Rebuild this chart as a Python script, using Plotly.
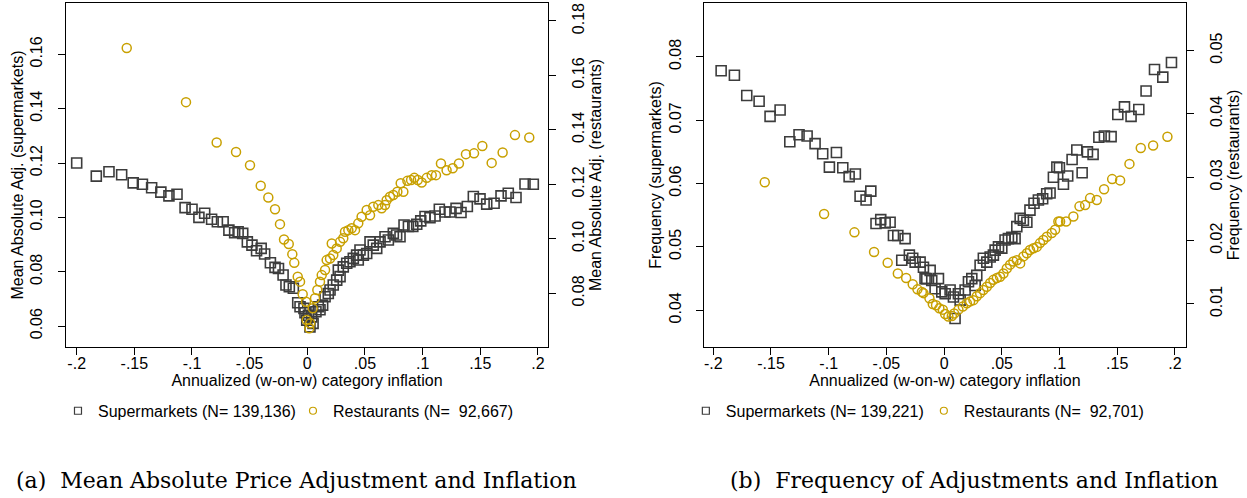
import plotly.graph_objects as go

# ---------------- Panel (a): mean absolute price adjustment ----------------
a_sup_x = [-0.200, -0.183, -0.172, -0.161, -0.151, -0.143, -0.135, -0.127, -0.120, -0.113,
           -0.106, -0.100, -0.094, -0.089, -0.083, -0.078, -0.073, -0.068, -0.063, -0.060,
           -0.056, -0.052, -0.048, -0.044, -0.040, -0.037, -0.032, -0.028, -0.025, -0.021,
           -0.0185, -0.0156, -0.0121, -0.0083, -0.0063, -0.0029, -0.0020, -0.0005, 0.0010,
           0.0023, 0.0038, 0.0050, 0.0075, 0.0095, 0.0110, 0.0133, 0.0154, 0.0182, 0.0197,
           0.0225, 0.0255, 0.0269, 0.0284, 0.0312, 0.0342, 0.0370, 0.0399, 0.0428, 0.0442,
           0.0457, 0.0486, 0.0515, 0.0544, 0.0572, 0.0602, 0.0631, 0.0674, 0.0703, 0.0746,
           0.0775, 0.0804, 0.0839, 0.0877, 0.0915, 0.0949, 0.0984, 0.1021, 0.1064, 0.1108,
           0.1145, 0.1194, 0.1237, 0.1290, 0.1333, 0.1388, 0.1440, 0.1498, 0.1556, 0.1620,
           0.1680, 0.1743, 0.1810, 0.1888, 0.1960]
a_sup_y = [0.1200, 0.1152, 0.1168, 0.1157, 0.1127, 0.1122, 0.1109, 0.1093, 0.1079, 0.1085,
           0.1036, 0.1030, 0.1000, 0.1015, 0.0993, 0.0984, 0.0984, 0.0953, 0.0944, 0.0947,
           0.0941, 0.0910, 0.0898, 0.0877, 0.0886, 0.0865, 0.0833, 0.0816, 0.0812, 0.0788,
           0.0751, 0.0745, 0.0739, 0.0686, 0.0671, 0.0665, 0.0649, 0.0622, 0.0640,
           0.0597, 0.0634, 0.0610, 0.0653, 0.0671, 0.0660, 0.0677, 0.0708, 0.0720, 0.0733,
           0.0751, 0.0769, 0.0806, 0.0782, 0.0818, 0.0831, 0.0837, 0.0849, 0.0861, 0.0843,
           0.0880, 0.0861, 0.0867, 0.0910, 0.0898, 0.0886, 0.0910, 0.0929, 0.0917, 0.0941,
           0.0935, 0.0929, 0.0972, 0.0967, 0.0967, 0.0975, 0.0987, 0.1003, 0.0999, 0.1005,
           0.1030, 0.1020, 0.1020, 0.1033, 0.1018, 0.1040, 0.1077, 0.1068, 0.1049, 0.1052,
           0.1079, 0.1089, 0.1073, 0.1123, 0.1122]

a_res_x = [-0.1566, -0.1052, -0.0786, -0.0618, -0.0497, -0.0404, -0.0338, -0.0280, -0.0237,
           -0.0202, -0.0161, -0.0130, -0.0113, -0.0083, -0.0063, -0.0040, -0.0011, -0.0005,
           0.0017, 0.0025, 0.0047, 0.0067, 0.0087, 0.0110, 0.0125, 0.0154, 0.0168, 0.0197,
           0.0212, 0.0225, 0.0255, 0.0284, 0.0312, 0.0327, 0.0356, 0.0385, 0.0414, 0.0442,
           0.0471, 0.0515, 0.0544, 0.0572, 0.0616, 0.0645, 0.0674, 0.0688, 0.0717, 0.0746,
           0.0781, 0.0810, 0.0833, 0.0868, 0.0900, 0.0928, 0.0958, 0.0992, 0.1036, 0.1079,
           0.1116, 0.1159, 0.1208, 0.1261, 0.1315, 0.1376, 0.1446, 0.1518, 0.1599, 0.1694,
           0.1801, 0.1925]
a_res_y = [0.1701, 0.1502, 0.1354, 0.1319, 0.1270, 0.1195, 0.1152, 0.1109, 0.1054,
           0.0998, 0.0981, 0.0944, 0.0912, 0.0861, 0.0843, 0.0797, 0.0769, 0.0702,
           0.0672, 0.0690, 0.0745, 0.0782, 0.0812, 0.0843, 0.0867, 0.0886, 0.0922, 0.0928,
           0.0983, 0.0941, 0.0965, 0.0989, 0.1002, 0.1026, 0.1032, 0.1039, 0.1032, 0.1057,
           0.1081, 0.1106, 0.1087, 0.1118, 0.1124, 0.1112, 0.1124, 0.1142, 0.1155, 0.1161,
           0.1173, 0.1204, 0.1173, 0.1213, 0.1216, 0.1224, 0.1216, 0.1207, 0.1224, 0.1234,
           0.1234, 0.1277, 0.1252, 0.1259, 0.1277, 0.1311, 0.1314, 0.1341, 0.1279, 0.1317,
           0.1381, 0.1372]

# ---------------- Panel (b): frequency of adjustments ----------------
b_sup_x = [-0.1932, -0.1817, -0.1710, -0.1603, -0.1508, -0.1421, -0.1337, -0.1257, -0.1187,
           -0.1118, -0.1052, -0.0994, -0.0933, -0.0878, -0.0823, -0.0769, -0.0728, -0.0676,
           -0.0635, -0.0590, -0.0549, -0.0511, -0.0468, -0.0439, -0.0401, -0.0367, -0.0338,
           -0.0301, -0.0272, -0.0251, -0.0208, -0.0179, -0.0165, -0.0150, -0.0121, -0.0107,
           -0.0078, -0.0049, -0.0020, 0.0009, 0.0052, 0.0081, 0.0095, 0.0124, 0.0139,
           0.0182, 0.0211, 0.0240, 0.0269, 0.0283, 0.0312, 0.0340, 0.0370, 0.0399, 0.0427,
           0.0442, 0.0471, 0.0500, 0.0528, 0.0557, 0.0587, 0.0615, 0.0630, 0.0659, 0.0687,
           0.0717, 0.0744, 0.0779, 0.0817, 0.0854, 0.0889, 0.0918, 0.0947, 0.0977, 0.0999,
           0.1034, 0.1071, 0.1109, 0.1150, 0.1196, 0.1242, 0.1291, 0.1341, 0.1389, 0.1447,
           0.1505, 0.1563, 0.1620, 0.1687, 0.1750, 0.1823, 0.1895, 0.1970]
b_sup_y = [0.0778, 0.0771, 0.0739, 0.0730, 0.0706, 0.0716, 0.0666, 0.0677, 0.0675,
           0.0663, 0.0647, 0.0626, 0.0649, 0.0625, 0.0611, 0.0615, 0.0580, 0.0574,
           0.0588, 0.0537, 0.0543, 0.0538, 0.0539, 0.0518, 0.0518, 0.0479, 0.0513,
           0.0487, 0.0482, 0.0476, 0.0476, 0.0468, 0.0450, 0.0450, 0.0463, 0.0447,
           0.0434, 0.0450, 0.0429, 0.0426, 0.0432, 0.0421, 0.0387, 0.0426, 0.0416,
           0.0432, 0.0445, 0.0450, 0.0439, 0.0455, 0.0471, 0.0482, 0.0476, 0.0484, 0.0487,
           0.0495, 0.0500, 0.0498, 0.0511, 0.0513, 0.0515, 0.0513, 0.0532, 0.0545, 0.0542,
           0.0539, 0.0558, 0.0569, 0.0574, 0.0576, 0.0584, 0.0585, 0.0610, 0.0626, 0.0625,
           0.0599, 0.0612, 0.0638, 0.0653, 0.0617, 0.0650, 0.0646, 0.0673, 0.0675, 0.0674,
           0.0709, 0.0721, 0.0706, 0.0717, 0.0746, 0.0780, 0.0768, 0.0791]

b_res_x = [-0.1554, -0.1040, -0.0777, -0.0607, -0.0489, -0.0401, -0.0329, -0.0272, -0.0231,
           -0.0193, -0.0179, -0.0127, -0.0098, -0.0070, -0.0041, -0.0011, 0.0009, 0.0037,
           0.0067, 0.0087, 0.0124, 0.0162, 0.0197, 0.0225, 0.0254, 0.0283, 0.0312, 0.0340,
           0.0370, 0.0399, 0.0427, 0.0457, 0.0485, 0.0514, 0.0543, 0.0572, 0.0600, 0.0630,
           0.0659, 0.0687, 0.0717, 0.0744, 0.0774, 0.0803, 0.0831, 0.0860, 0.0890, 0.0933,
           0.0962, 0.0990, 0.1005, 0.1057, 0.1120, 0.1173, 0.1222, 0.1265, 0.1323, 0.1386,
           0.1456, 0.1525, 0.1606, 0.1704, 0.1811, 0.1935]
b_res_y = [0.0292, 0.0242, 0.0213, 0.0182, 0.0165, 0.0148, 0.0141, 0.0131, 0.0123,
           0.0119, 0.0117, 0.0109, 0.0100, 0.0098, 0.0093, 0.0091, 0.0084, 0.0080,
           0.0081, 0.0085, 0.0091, 0.0096, 0.0101, 0.0104, 0.0106, 0.0112, 0.0117, 0.0122,
           0.0127, 0.0133, 0.0138, 0.0141, 0.0143, 0.0148, 0.0156, 0.0162, 0.0167, 0.0169,
           0.0164, 0.0175, 0.0180, 0.0185, 0.0188, 0.0190, 0.0196, 0.0201, 0.0206, 0.0212,
           0.0217, 0.0230, 0.0230, 0.0230, 0.0238, 0.0254, 0.0256, 0.0267, 0.0264, 0.0281,
           0.0297, 0.0295, 0.0321, 0.0346, 0.0350, 0.0364]

x_tickvals = [-0.2, -0.15, -0.1, -0.05, 0, 0.05, 0.1, 0.15, 0.2]
x_ticktext = ["-.2", "-.15", "-.1", "-.05", "0", ".05", ".1", ".15", ".2"]

a_sup_label = "Supermarkets (N= 139,136)"
a_res_label = "Restaurants (N=\u00a0 92,667)"
b_sup_label = "Supermarkets (N= 139,221)"
b_res_label = "Restaurants (N=\u00a0 92,701)"

SQ = "#3c3c3c"
GOLD = "#C8A000"
FONT = "Liberation Sans"

sq_marker = dict(symbol="square-open", size=10, color=SQ, line=dict(width=1.6, color=SQ))
ci_marker = dict(symbol="circle-open", size=9, color=GOLD, line=dict(width=1.5, color=GOLD))
sq_leg = dict(symbol="square-open", size=7, color=SQ, line=dict(width=1.2, color=SQ))
ci_leg = dict(symbol="circle-open", size=7, color=GOLD, line=dict(width=1.2, color=GOLD))

fig = go.Figure()
fig.add_trace(go.Scatter(x=a_sup_x, y=a_sup_y, mode="markers", marker=sq_marker,
                         name=a_sup_label, xaxis="x", yaxis="y", showlegend=False))
fig.add_trace(go.Scatter(x=a_res_x, y=a_res_y, mode="markers", marker=ci_marker,
                         name=a_res_label, xaxis="x", yaxis="y2", showlegend=False))
fig.add_trace(go.Scatter(x=b_sup_x, y=b_sup_y, mode="markers", marker=sq_marker,
                         name=b_sup_label, xaxis="x2", yaxis="y3", showlegend=False))
fig.add_trace(go.Scatter(x=b_res_x, y=b_res_y, mode="markers", marker=ci_marker,
                         name=b_res_label, xaxis="x2", yaxis="y4", showlegend=False))
# legend entries (smaller symbols, like the original key)
fig.add_trace(go.Scatter(x=[None], y=[None], mode="markers", marker=sq_leg,
                         name=a_sup_label, xaxis="x", yaxis="y", legend="legend"))
fig.add_trace(go.Scatter(x=[None], y=[None], mode="markers", marker=ci_leg,
                         name=a_res_label, xaxis="x", yaxis="y2", legend="legend"))
fig.add_trace(go.Scatter(x=[None], y=[None], mode="markers", marker=sq_leg,
                         name=b_sup_label, xaxis="x2", yaxis="y3", legend="legend2"))
fig.add_trace(go.Scatter(x=[None], y=[None], mode="markers", marker=ci_leg,
                         name=b_res_label, xaxis="x2", yaxis="y4", legend="legend2"))

ydom = [0.3032, 0.994]
common_ax = dict(showline=True, linecolor="black", linewidth=1.3, ticks="outside",
                 ticklen=7, tickwidth=1.2, tickcolor="black", showgrid=False,
                 zeroline=False, automargin=False,
                 tickfont=dict(family=FONT, size=16, color="black"))
title_font = dict(family=FONT, size=16, color="black")

xcommon = dict(common_ax, tickvals=x_tickvals, ticktext=x_ticktext, mirror=True,
               ticklabelstandoff=-5)
ycommon = dict(common_ax, tickangle=-90, tickformat=".2f", ticklabelstandoff=9)

fig.update_layout(
    width=1247, height=498, margin=dict(l=0, r=0, t=0, b=0),
    paper_bgcolor="white", plot_bgcolor="white",
    xaxis=dict(xcommon, domain=[0.0529, 0.4395], anchor="y", range=[-0.2093, 0.2088],
               title=dict(text="Annualized (w-on-w) category inflation", font=title_font, standoff=2)),
    yaxis=dict(ycommon, domain=ydom, anchor="x", side="left", range=[0.0523, 0.1789],
               tickvals=[0.06, 0.08, 0.10, 0.12, 0.14, 0.16],
               title=dict(text="Mean Absolute Adj. (supermarkets)", font=title_font, standoff=0)),
    yaxis2=dict(ycommon, overlaying="y", anchor="x", side="right", range=[0.0603, 0.1866],
                tickvals=[0.08, 0.10, 0.12, 0.14, 0.16, 0.18],
                title=dict(text="Mean Absolute Adj. (restaurants)", font=title_font, standoff=0)),
    xaxis2=dict(xcommon, domain=[0.5646, 0.9509], anchor="y3", range=[-0.208, 0.2094],
                title=dict(text="Annualized (w-on-w) category inflation", font=title_font, standoff=2)),
    yaxis3=dict(ycommon, domain=ydom, anchor="x2", side="left", range=[0.0342, 0.0885],
                tickvals=[0.04, 0.05, 0.06, 0.07, 0.08],
                title=dict(text="Frequency (supermarkets)", font=title_font, standoff=0)),
    yaxis4=dict(ycommon, overlaying="y3", anchor="x2", side="right", range=[0.0032, 0.0575],
                tickvals=[0.01, 0.02, 0.03, 0.04, 0.05],
                title=dict(text="Frequency (restaurants)", font=title_font, standoff=0)),
    legend=dict(orientation="h", x=0.0465, y=0.175, xanchor="left", yanchor="middle",
                font=dict(family=FONT, size=16, color="black"), itemwidth=30,
                entrywidth=190, bgcolor="rgba(0,0,0,0)"),
    legend2=dict(orientation="h", x=0.550, y=0.175, xanchor="left", yanchor="middle",
                 font=dict(family=FONT, size=16, color="black"), itemwidth=30,
                 entrywidth=193, bgcolor="rgba(0,0,0,0)"),
    showlegend=True,
)

fig.add_annotation(text="(a)\u00a0 Mean Absolute Price Adjustment and Inflation",
                   xref="paper", yref="paper", x=296 / 1247, y=(498 - 480) / 498,
                   showarrow=False, xanchor="center", yanchor="middle",
                   font=dict(family="DejaVu Serif", size=22, color="black"))
fig.add_annotation(text="(b)\u00a0 Frequency of Adjustments and Inflation",
                   xref="paper", yref="paper", x=974 / 1247, y=(498 - 480) / 498,
                   showarrow=False, xanchor="center", yanchor="middle",
                   font=dict(family="DejaVu Serif", size=22, color="black"))

fig.write_html("out.html")
